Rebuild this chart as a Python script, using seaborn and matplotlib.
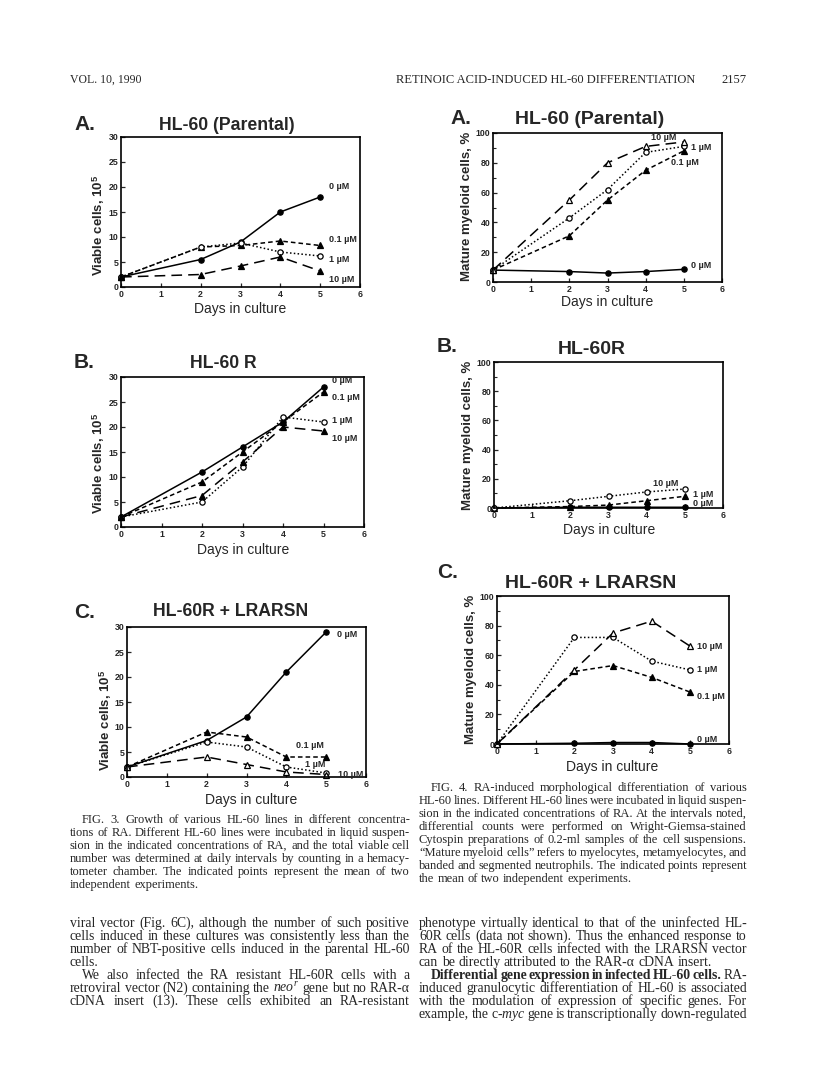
import matplotlib
matplotlib.use('Agg')
import matplotlib.pyplot as plt
from matplotlib.ticker import MultipleLocator
import pandas as pd
import seaborn as sns

W, H = 816, 1080

# ---- data ----
days = [0, 2, 3, 4, 5]

# Fig. 3: viable cells, 10^5
fig3a_0 = [2, 5.5, 9, 15, 18]
fig3a_01 = [2, 8, 8.3, 9.2, 8.3]
fig3a_1 = [2, 8, 8.8, 7, 6.2]
fig3a_10 = [2, 2.5, 4.2, 6, 3.2]

fig3b_0 = [2, 11, 16, 21, 28]
fig3b_01 = [2, 9, 15, 21, 27]
fig3b_1 = [2, 5, 12, 22, 21]
fig3b_10 = [2, 6.3, 13, 20, 19.2]

fig3c_0 = [2, 7.3, 12, 21, 29]
fig3c_01 = [2, 9, 8, 4, 4]
fig3c_1 = [2, 7, 6, 2, 0.8]
fig3c_10 = [2, 4, 2.5, 1, 0.5]

# Fig. 4: mature myeloid cells, %
fig4a_0 = [8, 7, 6, 7, 8.5]
fig4a_01 = [8, 31, 55, 75, 88]
fig4a_1 = [8, 43, 62, 87, 91]
fig4a_10 = [8, 55, 80, 91, 94]

fig4b_0 = [0, 0.5, 0.5, 0.5, 0.5]
fig4b_1 = [0, 1, 2, 5, 8]
fig4b_10 = [0, 5, 8, 11, 13]

fig4c_0 = [0, 0.5, 1, 1, 0]
fig4c_01 = [0, 49, 53, 45, 35]
fig4c_1 = [0, 72, 72, 56, 50]
fig4c_10 = [0, 50, 75, 83, 66]

# ---- style ----
sns.set_style('ticks')
plt.rcParams['font.family'] = ['Liberation Sans', 'DejaVu Sans']
plt.rcParams['mathtext.fontset'] = 'custom'
plt.rcParams['mathtext.rm'] = 'Liberation Sans'
plt.rcParams['mathtext.bf'] = 'Liberation Sans:bold'
plt.rcParams['mathtext.it'] = 'Liberation Serif:italic'

line_styles = {
    'solid': dict(linestyle='-', marker='o', markerfacecolor='k'),
    'short': dict(linestyle=(0, (3, 2)), marker='^', markerfacecolor='k'),
    'dot': dict(linestyle=(0, (1, 1.5)), marker='o', markerfacecolor='white'),
    'long': dict(linestyle=(0, (7, 4)), marker='^', markerfacecolor='k'),
    'long_open': dict(linestyle=(0, (7, 4)), marker='^', markerfacecolor='white'),
}

fig = plt.figure(figsize=(W / 100, H / 100), dpi=100)
fig.patch.set_facecolor('white')


def px_axes(l, r, t, b):
    return fig.add_axes([l / W, 1 - b / H, (r - l) / W, (b - t) / H])


def fx(x):
    return x / W


def fy(y):
    return 1 - y / H


def draw_panel(ax, series, ymax, ystep, yminor, labels):
    for vals, key in series:
        df = pd.DataFrame({'day': days, 'value': vals})
        sns.lineplot(data=df, x='day', y='value', ax=ax, color='k', linewidth=1.1,
                     markersize=3.8, markeredgecolor='k', markeredgewidth=0.9,
                     clip_on=False, **line_styles[key])
    for txt, x, y in labels:
        ax.text(x, y, txt, fontsize=6.5, fontweight='bold', ha='left', va='center')
    ax.set_xlim(0, 6)
    ax.set_ylim(0, ymax)
    ax.xaxis.set_major_locator(MultipleLocator(1))
    ax.yaxis.set_major_locator(MultipleLocator(ystep))
    if yminor:
        ax.yaxis.set_minor_locator(MultipleLocator(yminor))
    ax.tick_params(which='major', direction='in', length=3, width=0.9, labelsize=6.3, pad=2)
    ax.tick_params(which='minor', direction='in', length=2, width=0.8)
    for lab in ax.get_xticklabels() + ax.get_yticklabels():
        lab.set_fontweight('bold')
    for sp in ax.spines.values():
        sp.set_visible(True)
        sp.set_linewidth(1.2)
        sp.set_color('k')
    ax.set_facecolor('white')


def set_labels(ax, box, ylab, ylab_xy, xlab_xy, ysize=9.5):
    l, r, t, b = box
    ax.set_ylabel(ylab, fontsize=ysize, fontweight='bold', va='center', ha='center')
    ax.set_xlabel('Days in culture', fontsize=10, va='center', ha='center')
    ax.yaxis.set_label_coords((ylab_xy[0] - l) / (r - l), (b - ylab_xy[1]) / (b - t))
    ax.xaxis.set_label_coords((xlab_xy[0] - l) / (r - l), (b - xlab_xy[1]) / (b - t))


viable = r'Viable cells, $\mathbf{10}^{\mathbf{5}}$'
mature = 'Mature myeloid cells, %'

# Fig. 3A
box = (121, 360, 137, 287)
ax = px_axes(*box)
draw_panel(ax, [(fig3a_0, 'solid'), (fig3a_01, 'short'), (fig3a_1, 'dot'), (fig3a_10, 'long')],
           30, 5, None,
           [('0 µM', 5.22, 20.1), ('0.1 µM', 5.22, 9.5), ('1 µM', 5.22, 5.4), ('10 µM', 5.22, 1.5)])
set_labels(ax, box, viable, (99, 225), (240, 309))
fig.text(fx(227), fy(125), 'HL-60 (Parental)', fontsize=12.7, fontweight='bold', ha='center', va='center')
fig.text(fx(74), fy(125), 'A.', fontsize=15, fontweight='bold', ha='left', va='center')

# Fig. 3B
box = (121, 364, 377, 527)
ax = px_axes(*box)
draw_panel(ax, [(fig3b_0, 'solid'), (fig3b_01, 'short'), (fig3b_1, 'dot'), (fig3b_10, 'long')],
           30, 5, None,
           [('0 µM', 5.2, 29.3), ('0.1 µM', 5.2, 26), ('1 µM', 5.2, 21.3), ('10 µM', 5.2, 17.7)])
set_labels(ax, box, viable, (99, 463), (243, 550))
fig.text(fx(223), fy(363), 'HL-60 R', fontsize=12.7, fontweight='bold', ha='center', va='center')
fig.text(fx(74), fy(363), 'B.', fontsize=15, fontweight='bold', ha='left', va='center')

# Fig. 3C
box = (127, 366, 627, 777)
ax = px_axes(*box)
draw_panel(ax, [(fig3c_0, 'solid'), (fig3c_01, 'short'), (fig3c_1, 'dot'), (fig3c_10, 'long_open')],
           30, 5, None,
           [('0 µM', 5.26, 28.5), ('0.1 µM', 4.24, 6.3), ('1 µM', 4.47, 2.5), ('10 µM', 5.3, 0.5)])
set_labels(ax, box, viable, (106, 720), (251, 800))
fig.text(fx(231), fy(612), 'HL-60R + LRARSN', fontsize=12.7, fontweight='bold', ha='center', va='center')
fig.text(fx(74), fy(612), 'C.', fontsize=15, fontweight='bold', ha='left', va='center')

# Fig. 4A
box = (493, 722, 133, 282)
ax = px_axes(*box)
draw_panel(ax, [(fig4a_0, 'solid'), (fig4a_01, 'short'), (fig4a_1, 'dot'), (fig4a_10, 'long_open')],
           100, 20, 10,
           [('10 µM', 4.14, 96.9), ('1 µM', 5.19, 90.6), ('0.1 µM', 4.66, 80.5), ('0 µM', 5.19, 11.2)])
set_labels(ax, box, mature, (467, 206), (607, 302))
fig.text(fx(590), fy(119), 'HL-60 (Parental)', fontsize=14, fontweight='bold', ha='center', va='center')
fig.text(fx(450), fy(118), 'A.', fontsize=15, fontweight='bold', ha='left', va='center')

# Fig. 4B
box = (494, 723, 362, 508)
ax = px_axes(*box)
draw_panel(ax, [(fig4b_0, 'solid'), (fig4b_1, 'short'), (fig4b_10, 'dot')],
           100, 20, 10,
           [('10 µM', 4.17, 16.6), ('1 µM', 5.22, 9.1), ('0 µM', 5.22, 3)])
set_labels(ax, box, mature, (468, 435), (609, 530))
fig.text(fx(592), fy(349), 'HL-60R', fontsize=14, fontweight='bold', ha='center', va='center')
fig.text(fx(437), fy(347), 'B.', fontsize=15, fontweight='bold', ha='left', va='center')

# Fig. 4C
box = (497, 729, 596, 744)
ax = px_axes(*box)
draw_panel(ax, [(fig4c_0, 'solid'), (fig4c_01, 'short'), (fig4c_1, 'dot'), (fig4c_10, 'long_open')],
           100, 20, 10,
           [('10 µM', 5.16, 66.2), ('1 µM', 5.16, 50), ('0.1 µM', 5.16, 32.4), ('0 µM', 5.16, 3.2)])
set_labels(ax, box, mature, (471, 669), (612, 767))
fig.text(fx(591), fy(583), 'HL-60R + LRARSN', fontsize=14, fontweight='bold', ha='center', va='center')
fig.text(fx(437), fy(573), 'C.', fontsize=15, fontweight='bold', ha='left', va='center')

# ---- page text ----
renderer = fig.canvas.get_renderer()


def text_line(x0, x1, y, line, size, justify=True):
    items = []
    for w in line.split(' '):
        kw = dict(fontsize=size, family='Liberation Serif', va='baseline', ha='left')
        if w.startswith('#'):
            w = w[1:]
            kw['fontweight'] = 'bold'
        items.append(fig.text(0, 0, w, **kw))
    widths = [t.get_window_extent(renderer).width for t in items]
    space = size * 100 / 72 * 0.25
    if justify and len(items) > 1:
        space = (x1 - x0 - sum(widths)) / (len(items) - 1)
    x = x0
    for t, wd in zip(items, widths):
        t.set_position((fx(x), fy(y)))
        x += wd + space


def paragraph(x0, x1, y0, step, lines, size, indent_first=True, last_left=True):
    for i, ln in enumerate(lines):
        ind = 12 if (i == 0 and indent_first) else 0
        just = not (last_left and i == len(lines) - 1)
        text_line(x0 + ind, x1, y0 + i * step, ln, size, justify=just)


LX0, LX1 = 70, 410
RX0, RX1 = 419, 747
CAP = 9.0
BODY = 9.9
STEP = 13

fig.text(fx(LX0), fy(83), 'VOL. 10, 1990', fontsize=8.5, family='Liberation Serif', va='baseline')
fig.text(fx(695), fy(83), 'RETINOIC ACID-INDUCED HL-60 DIFFERENTIATION', fontsize=9,
         family='Liberation Serif', va='baseline', ha='right')
fig.text(fx(RX1), fy(83), '2157', fontsize=9, family='Liberation Serif', va='baseline', ha='right')

cap3 = [
    'FIG. 3. Growth of various HL-60 lines in different concentra-',
    'tions of RA. Different HL-60 lines were incubated in liquid suspen-',
    'sion in the indicated concentrations of RA, and the total viable cell',
    'number was determined at daily intervals by counting in a hemacy-',
    'tometer chamber. The indicated points represent the mean of two',
    'independent experiments.',
]
paragraph(LX0, LX1, 823, STEP, cap3, CAP)

body_left1 = [
    'viral vector (Fig. 6C), although the number of such positive',
    'cells induced in these cultures was consistently less than the',
    'number of NBT-positive cells induced in the parental HL-60',
    'cells.',
]
paragraph(LX0, LX1, 927, STEP, body_left1, BODY, indent_first=False)

body_left2 = [
    'We also infected the RA resistant HL-60R cells with a',
    r'retroviral vector (N2) containing the $\mathit{neo}^{\mathit{r}}$ gene but no RAR-α',
    'cDNA insert (13). These cells exhibited an RA-resistant',
]
paragraph(LX0, LX1, 927 + 4 * STEP, STEP, body_left2, BODY, last_left=False)

cap4 = [
    'FIG. 4. RA-induced morphological differentiation of various',
    'HL-60 lines. Different HL-60 lines were incubated in liquid suspen-',
    'sion in the indicated concentrations of RA. At the intervals noted,',
    'differential counts were performed on Wright-Giemsa-stained',
    'Cytospin preparations of 0.2-ml samples of the cell suspensions.',
    '“Mature myeloid cells” refers to myelocytes, metamyelocytes, and',
    'banded and segmented neutrophils. The indicated points represent',
    'the mean of two independent experiments.',
]
paragraph(RX0, RX1, 791, STEP, cap4, CAP)

body_right1 = [
    'phenotype virtually identical to that of the uninfected HL-',
    '60R cells (data not shown). Thus the enhanced response to',
    'RA of the HL-60R cells infected with the LRARSN vector',
    'can be directly attributed to the RAR-α cDNA insert.',
]
paragraph(RX0, RX1, 927, STEP, body_right1, BODY, indent_first=False)

body_right2 = [
    '#Differential #gene #expression #in #infected #HL-60 #cells. RA-',
    'induced granulocytic differentiation of HL-60 is associated',
    'with the modulation of expression of specific genes. For',
    r'example, the c-$\mathit{myc}$ gene is transcriptionally down-regulated',
]
paragraph(RX0, RX1, 927 + 4 * STEP, STEP, body_right2, BODY, last_left=False)

fig.savefig('out.png', dpi=100, facecolor='white')
